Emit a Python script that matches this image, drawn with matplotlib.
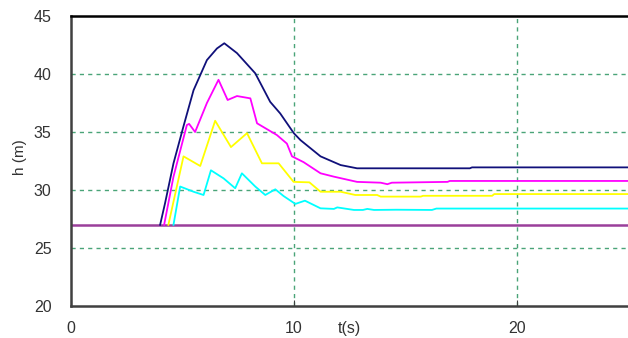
import matplotlib
matplotlib.use("Agg")
import matplotlib.pyplot as plt

# time (s) and water level h (m)
t_navy = [4.0, 4.22, 4.6, 5.05, 5.5, 6.1, 6.55, 6.88, 7.45, 8.27, 8.94, 9.39, 10.0, 10.3,
          11.2, 12.1, 12.84, 17.9, 18.0, 25.0]
h_navy = [27.0, 28.85, 32.3, 35.5, 38.6, 41.2, 42.2, 42.65, 41.8, 40.06, 37.6, 36.6, 34.9, 34.3,
          32.9, 32.15, 31.87, 31.87, 31.95, 31.95]

t_mag = [4.18, 4.6, 5.2, 5.3, 5.57, 6.1, 6.62, 7.03, 7.45, 8.05, 8.35, 9.24, 9.69, 9.92,
         10.44, 11.2, 11.8, 12.84, 13.9, 14.2, 14.4, 16.9, 17.0, 25.0]
h_mag = [27.0, 31.15, 35.6, 35.7, 35.0, 37.5, 39.5, 37.76, 38.1, 37.9, 35.75, 34.74, 34.0, 32.9,
         32.4, 31.44, 31.15, 30.7, 30.63, 30.5, 30.63, 30.7, 30.78, 30.78]

t_yel = [4.37, 5.05, 5.8, 6.47, 7.18, 7.9, 8.57, 9.32, 9.99, 10.7, 11.2, 12.1, 12.76, 13.74,
         13.9, 15.7, 15.8, 18.9, 19.0, 25.0]
h_yel = [27.0, 32.9, 32.07, 35.97, 33.7, 34.9, 32.3, 32.3, 30.7, 30.66, 29.85, 29.85, 29.57, 29.57,
         29.43, 29.43, 29.5, 29.5, 29.65, 29.65]

t_cyan = [4.6, 4.9, 5.5, 5.95, 6.28, 6.85, 7.37, 7.67, 8.27, 8.72, 9.17, 9.54, 10.07, 10.5,
          11.2, 11.8, 11.95, 12.7, 13.1, 13.3, 13.6, 14.6, 16.2, 16.4, 25.0]
h_cyan = [27.0, 30.3, 29.85, 29.57, 31.7, 31.0, 30.15, 31.44, 30.3, 29.57, 30.06, 29.48, 28.8, 29.08,
          28.42, 28.37, 28.5, 28.28, 28.28, 28.37, 28.28, 28.3, 28.28, 28.4, 28.4]

t_base = [0, 25]
h_base = [27.0, 27.0]

fig = plt.figure(figsize=(6.28, 3.38), dpi=100)
ax = fig.add_axes([71 / 628, 32 / 338, 557 / 628, 290 / 338])

ax.plot(t_base, h_base, color='#9a3f9a', lw=1.8, zorder=2)
ax.plot(t_cyan, h_cyan, color='#00ffff', lw=1.3, zorder=3)
ax.plot(t_yel, h_yel, color='#ffff00', lw=1.3, zorder=3)
ax.plot(t_mag, h_mag, color='#ff00ff', lw=1.3, zorder=3)
ax.plot(t_navy, h_navy, color='#10107a', lw=1.3, zorder=3)

ax.set_xlim(0, 25)
ax.set_ylim(20, 45)
ax.set_xticks([0, 10, 20])
ax.set_yticks([20, 25, 30, 35, 40, 45])

for y in [25, 30, 35, 40]:
    ax.axhline(y, color='#4aa478', ls=(0, (3, 3)), lw=1.0, zorder=1)
for x in [10, 20]:
    ax.axvline(x, color='#4aa478', ls=(0, (3, 3)), lw=1.0, zorder=1)

ax.spines['right'].set_visible(False)
ax.spines['top'].set_color('black')
ax.spines['top'].set_linewidth(1.8)
ax.spines['left'].set_color('#404040')
ax.spines['left'].set_linewidth(1.8)
ax.spines['bottom'].set_color('#404040')
ax.spines['bottom'].set_linewidth(1.8)

ax.tick_params(axis='y', length=0, pad=14, labelsize=11.5, labelcolor='#333333')
ax.tick_params(axis='x', direction='in', length=4, pad=11, labelsize=11.5, labelcolor='#333333',
               color='#404040')
for lab in ax.get_xticklabels() + ax.get_yticklabels():
    lab.set_family('Liberation Sans')

fig.text(349 / 628, 1 - 329 / 338, 't(s)', ha='center', va='center', fontsize=11.5,
         color='#333333', family='Liberation Sans')
fig.text(20 / 628, 1 - 157 / 338, 'h (m)', ha='center', va='center', fontsize=11,
         color='#333333', rotation=90, family='Liberation Sans')

fig.savefig('out.png', dpi=100)
